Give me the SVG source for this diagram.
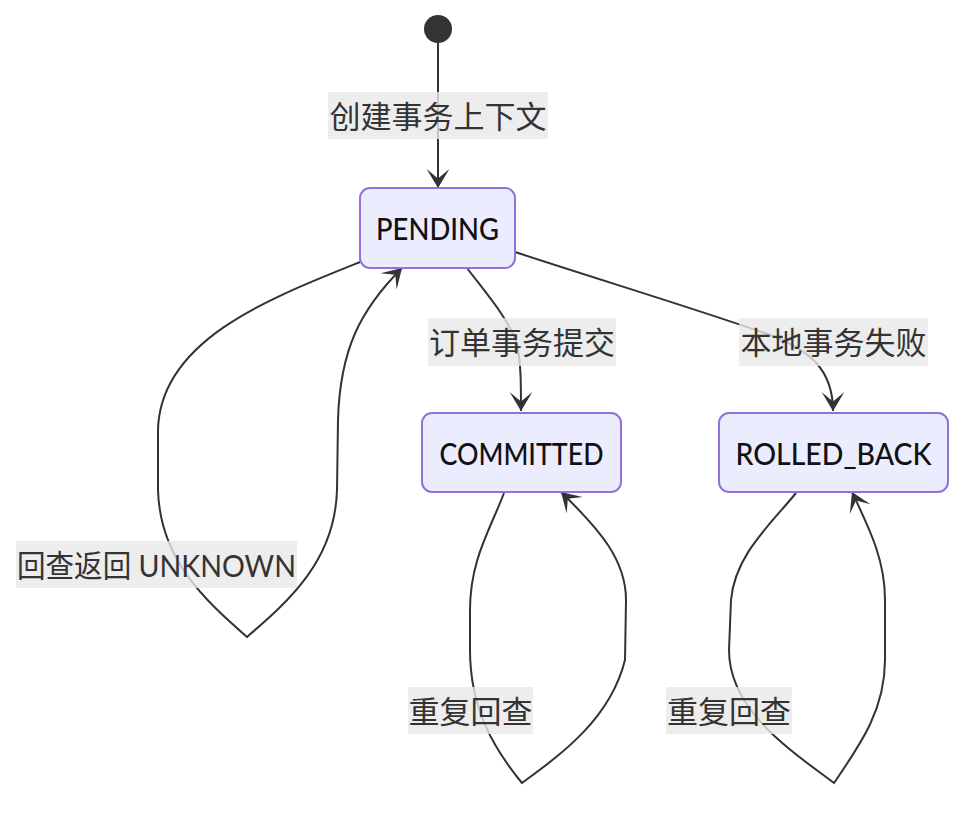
<svg xmlns="http://www.w3.org/2000/svg" width="980" height="814" viewBox="0 0 980 814">
<style>
.node rect{fill:#ECECFF;stroke:#9370DB;stroke-width:2}
.node text{font-family:Lato,"Noto Sans CJK SC",sans-serif;font-size:31px;font-weight:500;fill:#111;text-anchor:middle;dominant-baseline:central}
.edge{fill:none;stroke:#333;stroke-width:2}
.lbl rect{fill:#e8e8e8;fill-opacity:0.8}
.lbl text{font-family:Lato,"Noto Sans CJK SC",sans-serif;font-size:31px;fill:#333;text-anchor:middle;dominant-baseline:central}
</style>
<defs>
<marker id="barb" viewBox="0 0 20 14" refX="19" refY="7" markerWidth="38" markerHeight="26.6" markerUnits="userSpaceOnUse" orient="auto">
<path d="M19,7 L9,13 L14,7 L9,1 Z" fill="#333"/>
</marker>
</defs>
<g id="start"><circle cx="438" cy="29" r="14" fill="#333"/></g>
<g id="connectors">
<path class="edge" d="M438,43 L438,188" marker-end="url(#barb)"/>
<path class="edge" d="M467,268 C485,292 510,320 517,345 C521,362 521,385 521,411" marker-end="url(#barb)"/>
<path class="edge" d="M515,252 C600,280 700,310 770,335 C810,350 833,370 833,411" marker-end="url(#barb)"/>
<path class="edge" d="M360,262 C270,298 160,340 158,430 L158,490 C160,560 205,600 247,637 C290,600 335,560 337,490 L338,420 C340,350 360,310 402,268" marker-end="url(#barb)"/>
<path class="edge" d="M504,493 C490,530 470,560 470,610 L470,650 C470,710 495,750 522,783 C560,755 610,720 625,660 L626,600 C626,560 600,530 561,492" marker-end="url(#barb)"/>
<path class="edge" d="M796,493 C770,525 735,555 731,600 L729,650 C729,710 790,750 834,783 C860,745 885,710 885,660 L885,600 C885,560 870,530 852,492" marker-end="url(#barb)"/>
</g>
<g id="labels">
<g class="lbl"><rect x="328" y="92" width="220" height="47"/><text x="438" y="115.5">创建事务上下文</text></g>
<g class="lbl"><rect x="428" y="318" width="188" height="48"/><text x="522" y="342">订单事务提交</text></g>
<g class="lbl"><rect x="739" y="318" width="189" height="48"/><text x="833.5" y="342">本地事务失败</text></g>
<g class="lbl"><rect x="16" y="541" width="281" height="47"/><text x="156.5" y="564.5" textLength="279" lengthAdjust="spacingAndGlyphs">回查返回 UNKNOWN</text></g>
<g class="lbl"><rect x="408" y="687" width="125" height="47"/><text x="470.5" y="710.5">重复回查</text></g>
<g class="lbl"><rect x="666" y="687" width="126" height="47"/><text x="729" y="710.5">重复回查</text></g>
</g>
<g id="PENDING" class="node"><rect x="360" y="188" width="155" height="80" rx="10"/><text x="437.5" y="228" textLength="123" lengthAdjust="spacingAndGlyphs">PENDING</text></g>
<g id="COMMITTED" class="node"><rect x="422" y="413" width="199" height="79" rx="10"/><text x="521.5" y="452.5" textLength="164" lengthAdjust="spacingAndGlyphs">COMMITTED</text></g>
<g id="ROLLED_BACK" class="node"><rect x="719" y="413" width="229" height="79" rx="10"/><text x="833.5" y="452.5" textLength="196" lengthAdjust="spacingAndGlyphs">ROLLED_BACK</text></g>
</svg>
